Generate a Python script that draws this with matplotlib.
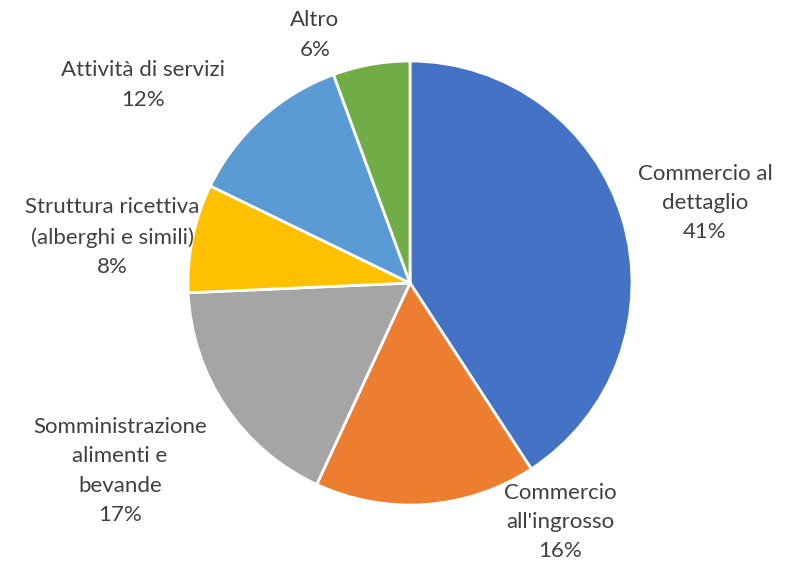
import matplotlib
matplotlib.use('Agg')
import matplotlib.pyplot as plt

categorie = ['Commercio al\ndettaglio', "Commercio\nall'ingrosso",
             'Somministrazione\nalimenti e\nbevande', 'Struttura ricettiva\n(alberghi e simili)',
             'Attività di servizi', 'Altro']
quote = [40.8, 16.1, 17.4, 7.9, 12.2, 5.6]
colori = ['#4472C4', '#ED7D31', '#A5A5A5', '#FFC000', '#5B9BD5', '#70AD47']

# label centres, in pie-radius units
pos_etichette = [(1.329, 0.360), (0.676, -1.077), (-1.306, -0.847),
                 (-1.342, 0.207), (-1.203, 0.892), (-0.428, 1.117)]

plt.rcParams['font.family'] = ['Lato', 'DejaVu Sans']

fig = plt.figure(figsize=(7.88, 5.61), dpi=100)
ax = fig.add_axes([0, 0, 1, 1])
ax.pie(quote, colors=colori, startangle=90, counterclock=False, radius=1,
       wedgeprops=dict(edgecolor='white', linewidth=2))

for nome, q, (x, y) in zip(categorie, quote, pos_etichette):
    ax.text(x, y, f'{nome}\n{round(q)}%', ha='center', va='center', fontsize=16,
            color='#404040', linespacing=1.58)

ax.set_xlim(-410 / 222, 378 / 222)
ax.set_ylim(-278 / 222, 283 / 222)
ax.set_aspect('equal')
ax.axis('off')

fig.savefig('out.png', dpi=100)
